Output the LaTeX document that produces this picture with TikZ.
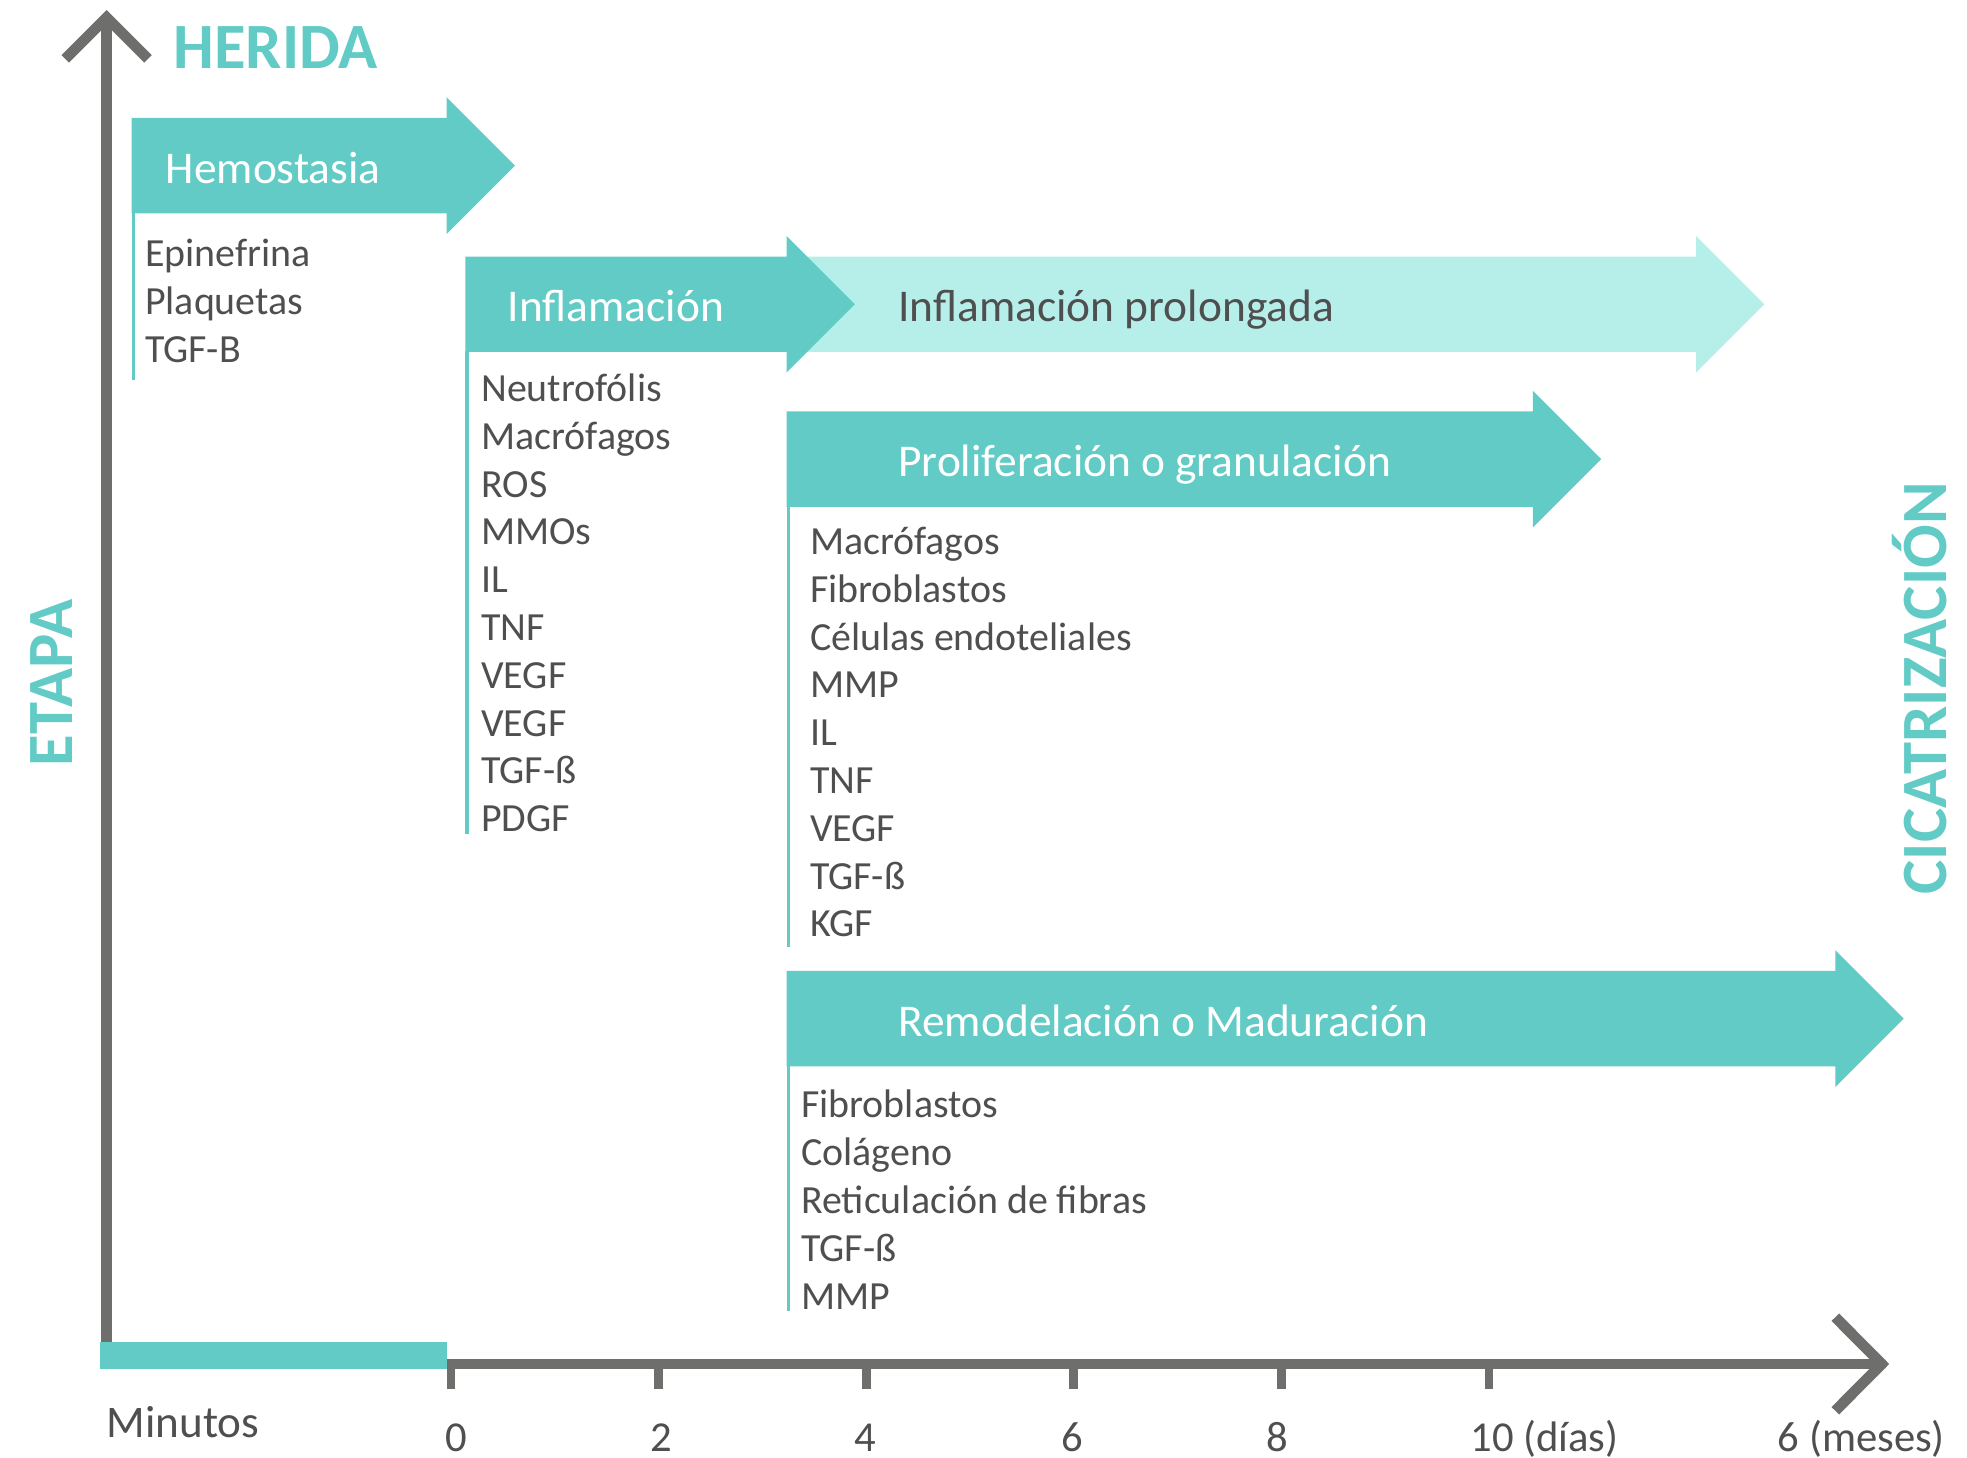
\documentclass[tikz,border=0pt]{standalone}
\usepackage{fontspec}
\setmainfont{Carlito}

\definecolor{tealA}{HTML}{62CBC6}
\definecolor{tealB}{HTML}{B6EEEA}
\definecolor{axisgray}{HTML}{6E6E6D}
\definecolor{txtgray}{HTML}{4F4F4F}

% fill colour, x start, x of head, y centre
\newcommand{\phasearrow}[4]{%
  \fill[#1] (#2,#4-38) -- (#3,#4-38) -- (#3,#4-54.5) -- (#3+54.5,#4)
    -- (#3,#4+54.5) -- (#3,#4+38) -- (#2,#4+38) -- cycle;}

\begin{document}
\begin{tikzpicture}[x=1pt,y=-1pt,line join=miter,
  item/.style={anchor=base west,inner sep=0pt,text=txtgray,
    font=\fontsize{31.8}{31.8}\selectfont},
  head/.style={anchor=base west,inner sep=0pt,text=white,
    font=\fontsize{36.2}{36.2}\selectfont},
  big/.style={anchor=base west,inner sep=0pt,text=tealA,
    font=\fontsize{51.5}{51.5}\selectfont\bfseries},
  tick/.style={anchor=base,inner sep=0pt,text=txtgray,
    font=\fontsize{34}{34}\selectfont},
  stem/.style={tealA,line width=2.5pt}]

\useasboundingbox (0,0) rectangle (1568,1162);

        % the phase arrows
        \phasearrow{tealB}{627}{1352}{242.5}
        \phasearrow{tealA}{105}{356}{132}
        \phasearrow{tealA}{371}{627}{242.5}
        \phasearrow{tealA}{627}{1222}{366}
        \phasearrow{tealA}{627}{1463}{812}

        % lines under the arrows
        \draw[stem] (106.3,170) -- (106.3,303);
        \draw[stem] (372.3,280) -- (372.3,665);
        \draw[stem] (628.3,404) -- (628.3,755);
        \draw[stem] (628.3,850) -- (628.3,1045);

        % names of the phases
        \node[head] (hemo) at (132,146) {Hemostasia};
        \node[head] (infl) at (404.5,256.5) {Inflamación};
        \node[head,text=txtgray] (prol) at (716,256.5) {Inflamación prolongada};
        \node[head] (prolif) at (716,379.5) {Proliferación o granulación};
        \node[head] (remod) at (716,826) {Remodelación o Maduración};

        % what acts in each phase
        \foreach \t [count=\i from 0] in {Epinefrina,Plaquetas,TGF-B}
          \node[item] (hem\i) at (115.5,212.6+38.2*\i) {\t};
        \foreach \t [count=\i from 0] in {Neutrofólis,Macrófagos,ROS,MMOs,IL,TNF,VEGF,VEGF,TGF-ß,PDGF}
          \node[item] (inf\i) at (383.5,320+38.1*\i) {\t};
        \foreach \t [count=\i from 0] in {Macrófagos,Fibroblastos,Células endoteliales,MMP,IL,TNF,VEGF,TGF-ß,KGF}
          \node[item] (pro\i) at (645.5,442+38.1*\i) {\t};
        \foreach \t [count=\i from 0] in {Fibroblastos,Colágeno,Reticulación de fibras,TGF-ß,MMP}
          \node[item] (rem\i) at (638.5,891+38.2*\i) {\t};

        % draw the axes
        \fill[tealA] (80,1069.5) rectangle (356,1091.5);
        \draw[axisgray,line width=8.5pt] (85,1069.5) -- (85,14);
        \draw[axisgray,line width=8.5pt] (52,47) -- (85,14) -- (118,47);
        \draw[axisgray,line width=8.5pt] (356,1087.3) -- (1500,1087.3);
        \draw[axisgray,line width=8.5pt] (1463,1050) -- (1500,1087.3) -- (1463,1124.6);
        \foreach \x in {359.5,525,690.5,856,1021.5,1187}
          \draw[axisgray,line width=7pt] (\x,1087.3) -- (\x,1107);

        % axis labels
        \node[big] (herida) at (138,54.5) {HERIDA};
        \node[big,rotate=90] (etapa) at (58,611) {ETAPA};
        \node[big,rotate=90] (cicat) at (1552,713) {CICATRIZACIÓN};
        \node[tick,anchor=base west,font=\fontsize{36}{36}\selectfont] (min) at (85,1145.5) {Minutos};
        \node[tick] (t0) at (364,1157) {0};
        \node[tick] (t2) at (527,1157) {2};
        \node[tick] (t4) at (690,1157) {4};
        \node[tick] (t6) at (855,1157) {6};
        \node[tick] (t8) at (1018,1157) {8};
        \node[tick,anchor=base west] (t10) at (1172,1157) {10 (días)};
        \node[tick,anchor=base west] (t6m) at (1417,1157) {6 (meses)};
\end{tikzpicture}
\end{document}
